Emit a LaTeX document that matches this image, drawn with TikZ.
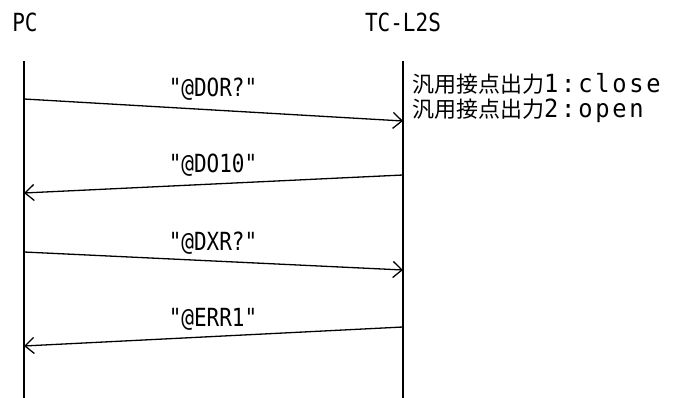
\documentclass[tikz,border=0pt]{standalone}
\usepackage{fontspec}
\setmonofont{DejaVu Sans Mono}[FakeStretch=0.84]
\newfontfamily\cjk{Noto Sans CJK JP}
\newfontfamily\notemono{DejaVu Sans Mono}[Scale=1.136,FakeStretch=0.95,LetterSpace=11]
\usetikzlibrary{arrows.meta}

\tikzset{
	life/.style={line width=1.3pt},
	msg/.style={line width=1.3pt,-{Straight Barb[length=9pt,width=16pt]}},
	lbl/.style={font=\ttfamily\fontsize{25}{25}\selectfont,inner sep=0pt,anchor=base},
	note/.style={font=\fontsize{22}{22}\selectfont,inner sep=0pt,anchor=base west},
}

\begin{document}
\begin{tikzpicture}[x=1pt,y=-1pt]
			\useasboundingbox (0,0) rectangle (673,398);
			
			\node[lbl] (pc) at (25,32) {PC};
			\node[lbl] (tc) at (403,32) {TC-L2S};
			
			\coordinate (pctop) at (24,61);
			\coordinate (pcbot) at (24,398);
			\coordinate (tctop) at (403,61);
			\coordinate (tcbot) at (403,398);
			
			\draw[life] (pctop) -- (pcbot);
			\draw[life] (tctop) -- (tcbot);
			
			% messages
			\coordinate (a1) at (24,99);  \coordinate (b1) at (403,121);
			\coordinate (b2) at (403,175); \coordinate (a2) at (24,193);
			\coordinate (a3) at (24,252); \coordinate (b3) at (403,270);
			\coordinate (b4) at (403,327); \coordinate (a4) at (24,346);
			
			\draw[msg] (a1) -- (b1);
			\draw[msg] (b2) -- (a2);
			\draw[msg] (a3) -- (b3);
			\draw[msg] (b4) -- (a4);
			
			\node[lbl] (m1) at (213,97) {"@DOR?"};
			\node[lbl] (m2) at (213,173) {"@DO10"};
			\node[lbl] (m3) at (213,251) {"@DXR?"};
			\node[lbl] (m4) at (213,327) {"@ERR1"};
			
			\node[note] (st1) at (412,93) {{\cjk 汎用接点出力}{\notemono 1:close}};
			\node[note] (st2) at (412,118) {{\cjk 汎用接点出力}{\notemono 2:open}};
\end{tikzpicture}
\end{document}
